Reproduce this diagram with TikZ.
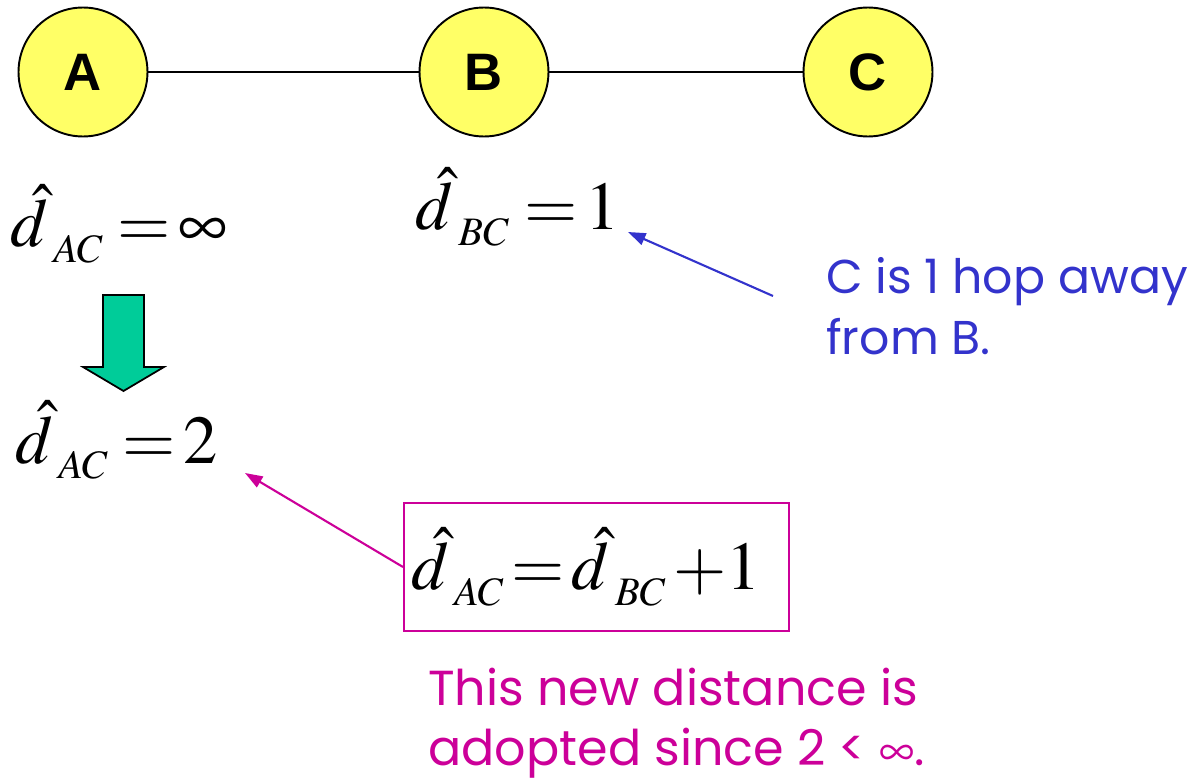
\documentclass[tikz,border=0pt]{standalone}
\usepackage{mathptmx}
\usepackage[no-math]{fontspec}
\newfontfamily\labelfont{Liberation Sans}
\newfontfamily\notefont{Poppins}
\usetikzlibrary{arrows.meta}
\definecolor{nodeyellow}{HTML}{FFFF66}
\definecolor{notegreen}{HTML}{00CC99}
\definecolor{noteblue}{HTML}{3333CC}
\definecolor{notemag}{HTML}{CC0099}
\newcommand{\dhatsub}[1]{$\hat{d}$\kern3pt\raisebox{-9pt}{\fontsize{23}{23}\selectfont$#1$}}
\tikzset{
  netnode/.style={circle, draw=black, line width=1.1pt, fill=nodeyellow, minimum size=2.58cm, inner sep=0pt, font=\labelfont\bfseries\fontsize{30}{36}\selectfont},
  link/.style={line width=1.1pt},
  formula/.style={anchor=base west, inner sep=0pt, font=\fontsize{39}{46}\selectfont},
  bluenote/.style={anchor=base west, inner sep=0pt, align=left, text=noteblue, font=\notefont\fontsize{27}{35}\selectfont},
  magnote/.style={anchor=base west, inner sep=0pt, align=left, text=notemag, font=\notefont\fontsize{28}{34}\selectfont},
  bluearrow/.style={draw=noteblue, line width=1.2pt, -{Triangle[length=10pt,width=7pt]}},
  magarrow/.style={draw=notemag, line width=1.2pt, -{Triangle[length=10pt,width=7pt]}}
}
\begin{document}
\begin{tikzpicture}[x=0.02cm,y=-0.02cm]
\useasboundingbox (0,0) rectangle (1198,784);
\node[netnode] (A) at (83,72) {A};
\node[netnode] (B) at (484,72) {B};
\node[netnode] (C) at (868,72) {C};
\draw[link] (A) -- (B);
\draw[link] (B) -- (C);

\node[formula] (eqAC) at (10,247) {\dhatsub{AC}$\;{=}\,\infty$};
\node[formula] (eqBC) at (415,230) {\dhatsub{BC}$\;{=}\,1$};
\node[formula] (eqAC2) at (15,463) {\dhatsub{AC}$\;{=}\,2$};

\draw[black, line width=1pt, fill=notegreen] (103,295) -- (144,295) -- (144,367) -- (164,367) -- (123.5,391) -- (83,367) -- (103,367) -- cycle;

\node[draw=notemag, line width=1.2pt, minimum height=2.56cm, text width=7.42cm, inner xsep=0.14cm, inner ysep=0pt, align=left, anchor=west, font=\fontsize{39}{46}\selectfont] (box) at (403,567) {\dhatsub{AC}$\,{=}\,$\dhatsub{BC}$\,{+}1$};

\node[bluenote] (note1) at (826,355) {C is 1 hop away\\from B.};
\node[magnote] (note2) at (428,765) {This new distance is\\adopted since 2 < $\infty$.};

\coordinate (bluetail) at (773,296);
\coordinate (bluetip) at (628,232);
\draw[bluearrow] (bluetail) -- (bluetip);
\coordinate (magtip) at (245,473);
\draw[magarrow] (box.west) -- (magtip);
\end{tikzpicture}
\end{document}
